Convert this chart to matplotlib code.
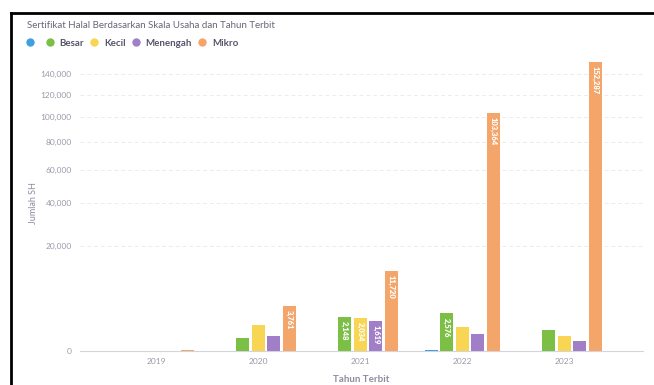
import numpy as np
import matplotlib
matplotlib.use('Agg')
import matplotlib.pyplot as plt
from matplotlib.lines import Line2D

plt.rcParams['font.family'] = ['Lato', 'DejaVu Sans']

# data
years = ['2019', '2020', '2021', '2022', '2023']
series_names = ['', 'Besar', 'Kecil', 'Menengah', 'Mikro']
blank = [0, 0, 0, 4, 0]
besar = [0, 290, 2148, 2576, 780]
kecil = [0, 1200, 2034, 1050, 430]
menengah = [0, 410, 1619, 510, 185]
mikro = [3, 3761, 11720, 103364, 152287]
yticks = [0, 20000, 40000, 60000, 80000, 100000, 120000, 140000]
colors = ['#3f9fdf', '#7bbf45', '#f8d553', '#a17ec8', '#f4a56a']
# only bars tall enough carry a value label
labelled = {(1, 2), (2, 2), (3, 2), (4, 1), (4, 2), (1, 3), (4, 3), (4, 4)}

all_series = [blank, besar, kecil, menengah, mikro]

fig = plt.figure(figsize=(6.54, 3.85), dpi=100)
ax = fig.add_axes([0.1223, 0.0883, 0.8607, 0.7687])
ax.set_yscale('function', functions=(np.sqrt, lambda y: np.square(y)))

x = np.arange(len(years))
pitch = 0.152
width = 0.128
for i, (vals, col) in enumerate(zip(all_series, colors)):
    pos = x + (i - 2) * pitch
    ax.bar(pos, vals, width=width, color=col, zorder=3)
    for j, v in enumerate(vals):
        if (i, j) in labelled:
            ax.annotate(f'{v:,}', (pos[j], v), xytext=(0, -3), textcoords='offset points',
                        rotation=270, ha='center', va='top', color='white',
                        fontsize=5.5, fontweight='heavy', zorder=4)

ax.set_ylim(0, 160000)
ax.set_xlim(-0.75, 4.77)
ax.set_yticks(yticks)
ax.set_yticklabels([f'{t:,}' for t in yticks])
ax.set_xticks(x)
ax.set_xticklabels(years)
ax.tick_params(axis='both', length=0, labelsize=6, colors='#9a9aaa')
ax.tick_params(axis='y', pad=6)
ax.tick_params(axis='x', pad=5)
ax.grid(axis='y', color='#ececf0', linestyle=(0, (4, 3)), linewidth=0.7, zorder=0)
for s in ['top', 'right', 'left']:
    ax.spines[s].set_visible(False)
ax.spines['bottom'].set_color('#d4d4dc')
ax.spines['bottom'].set_linewidth(0.8)

ax.set_xlabel('Tahun Terbit', fontsize=7, color='#8c8ca0', fontweight='bold', labelpad=7)
ax.set_ylabel('Jumlah SH', fontsize=6.5, color='#8c8ca0')
ax.yaxis.set_label_coords(-0.075, 0.5)

fig.text(27 / 654, 1 - 25 / 385, 'Sertifikat Halal Berdasarkan Skala Usaha dan Tahun Terbit',
         fontsize=7, color='#66667a', va='center', ha='left')

handles = [Line2D([], [], marker='o', linestyle='none', markersize=5, color=c) for c in colors]
fig.legend(handles, series_names, loc='center left', bbox_to_anchor=(26 / 654, 1 - 43 / 385),
           ncol=5, frameon=False, handlelength=0.8, handletextpad=0.6, columnspacing=0.65,
           borderpad=0, borderaxespad=0, labelcolor='#55556a', prop={'weight': 'bold', 'size': 7})

# screenshot frame on the left and top
fig.add_artist(Line2D([11 / 654, 11 / 654], [0, 1 - 13 / 385], transform=fig.transFigure,
                      color='black', linewidth=2))
fig.add_artist(Line2D([11 / 654, 1], [1 - 13 / 385, 1 - 13 / 385], transform=fig.transFigure,
                      color='black', linewidth=2))

fig.savefig('out.png', dpi=100)
